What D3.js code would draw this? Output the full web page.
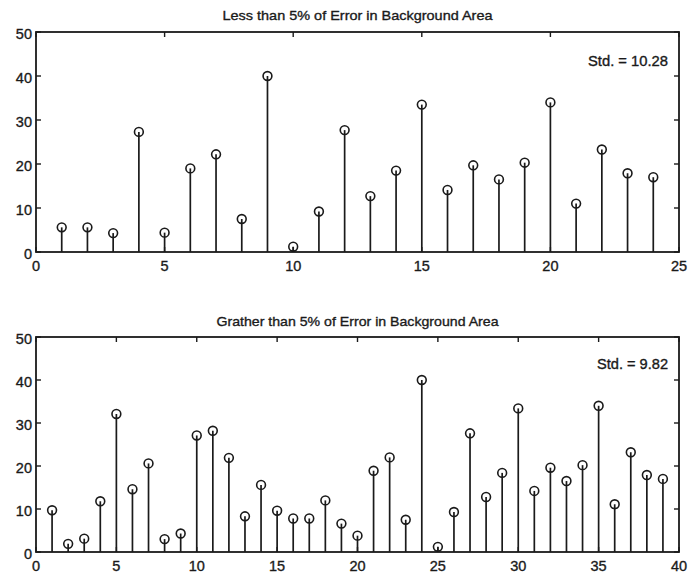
<!DOCTYPE html>
<html>
<head>
<meta charset="utf-8">
<script src="https://cdn.jsdelivr.net/npm/d3@7/dist/d3.min.js"></script>
<style>
  html, body { margin: 0; padding: 0; background: #fff; }
  svg { display: block; }
  text { font-family: "Liberation Sans", Arial, Helvetica, sans-serif; fill: #1a1a1a; stroke: #1a1a1a; stroke-width: 0.35px; }
</style>
</head>
<body>
<div id="chart"></div>
<script>
// ---- data ----
const topTitle = "Less than 5% of Error in Background Area";
const topStd = "Std. = 10.28";
const topIndex = d3.range(1, 25);
const topValues = [5.6, 5.6, 4.3, 27.3, 4.4, 19.0, 22.2, 7.5, 40.0, 1.2, 9.2, 27.7,
                   12.7, 18.5, 33.5, 14.1, 19.7, 16.5, 20.3, 34.0, 11.0, 23.3, 17.9, 17.0];
const topXTicks = [0, 5, 10, 15, 20, 25];

const botTitle = "Grather than 5% of Error in Background Area";
const botStd = "Std. = 9.82";
const botIndex = d3.range(1, 40);
const botValues = [9.7, 1.9, 3.1, 11.8, 32.1, 14.6, 20.6, 3.0, 4.3, 27.1, 28.2, 21.9,
                   8.3, 15.6, 9.6, 7.8, 7.8, 12.0, 6.6, 3.8, 18.9, 22.0, 7.5, 40.0,
                   1.2, 9.3, 27.6, 12.8, 18.4, 33.4, 14.2, 19.6, 16.5, 20.2, 34.0,
                   11.1, 23.2, 17.9, 17.0];
const botXTicks = [0, 5, 10, 15, 20, 25, 30, 35, 40];

const yTicks = [0, 10, 20, 30, 40, 50];

// ---- drawing ----
const W = 688, H = 576;
const svg = d3.select("#chart").append("svg").attr("width", W).attr("height", H);
const ink = "#1a1a1a";

function panel(opts) {
  const { top, bottom, left, right, xMax, xTicks, idx, vals, title, titleY, titleW, std, stdY, stdW } = opts;
  const x = d3.scaleLinear().domain([0, xMax]).range([left, right]);
  const y = d3.scaleLinear().domain([0, 50]).range([bottom, top]);
  const g = svg.append("g");
  const tl = 5;

  // box
  g.append("rect").attr("x", left).attr("y", top)
    .attr("width", right - left).attr("height", bottom - top)
    .attr("fill", "none").attr("stroke", ink).attr("stroke-width", 1.8);

  // x ticks (bottom and top, inward)
  g.selectAll(".xtb").data(xTicks).enter().append("line")
    .attr("x1", d => x(d)).attr("x2", d => x(d))
    .attr("y1", bottom).attr("y2", bottom - tl)
    .attr("stroke", ink).attr("stroke-width", 1.4);
  g.selectAll(".xtt").data(xTicks).enter().append("line")
    .attr("x1", d => x(d)).attr("x2", d => x(d))
    .attr("y1", top).attr("y2", top + tl)
    .attr("stroke", ink).attr("stroke-width", 1.4);
  // y ticks (left and right, inward)
  g.selectAll(".ytl").data(yTicks).enter().append("line")
    .attr("x1", left).attr("x2", left + tl)
    .attr("y1", d => y(d)).attr("y2", d => y(d))
    .attr("stroke", ink).attr("stroke-width", 1.4);
  g.selectAll(".ytr").data(yTicks).enter().append("line")
    .attr("x1", right).attr("x2", right - tl)
    .attr("y1", d => y(d)).attr("y2", d => y(d))
    .attr("stroke", ink).attr("stroke-width", 1.4);

  // tick labels
  g.selectAll(".xl").data(xTicks).enter().append("text")
    .attr("x", d => x(d)).attr("y", bottom + 19)
    .attr("text-anchor", "middle").attr("font-size", 14.5)
    .text(d => d);
  g.selectAll(".yl").data(yTicks).enter().append("text")
    .attr("x", left - 4).attr("y", d => y(d) + 6.5)
    .attr("text-anchor", "end").attr("font-size", 14.5)
    .text(d => d);

  // stems
  g.selectAll(".stem").data(idx).enter().append("line")
    .attr("x1", d => x(d)).attr("x2", d => x(d))
    .attr("y1", y(0)).attr("y2", (d, i) => y(vals[i]))
    .attr("stroke", ink).attr("stroke-width", 1.7);
  // markers
  g.selectAll(".mk").data(idx).enter().append("circle")
    .attr("cx", d => x(d)).attr("cy", (d, i) => y(vals[i]))
    .attr("r", 4.4).attr("fill", "none")
    .attr("stroke", ink).attr("stroke-width", 1.6);

  // title
  g.append("text").attr("x", (left + right) / 2).attr("y", titleY)
    .attr("text-anchor", "middle").attr("font-size", 13.5)
    .attr("textLength", titleW).attr("lengthAdjust", "spacingAndGlyphs")
    .text(title);
  // std label
  g.append("text").attr("x", right - 11).attr("y", stdY)
    .attr("text-anchor", "end").attr("font-size", 14.5)
    .attr("textLength", stdW).attr("lengthAdjust", "spacingAndGlyphs")
    .text(std);
}

panel({ top: 32, bottom: 252, left: 36, right: 679, xMax: 25, xTicks: topXTicks,
        idx: topIndex, vals: topValues, title: topTitle, titleY: 20, titleW: 270,
        std: topStd, stdY: 66, stdW: 80 });
panel({ top: 337, bottom: 552, left: 36, right: 679, xMax: 40, xTicks: botXTicks,
        idx: botIndex, vals: botValues, title: botTitle, titleY: 326, titleW: 282,
        std: botStd, stdY: 369, stdW: 71 });
</script>
</body>
</html>
